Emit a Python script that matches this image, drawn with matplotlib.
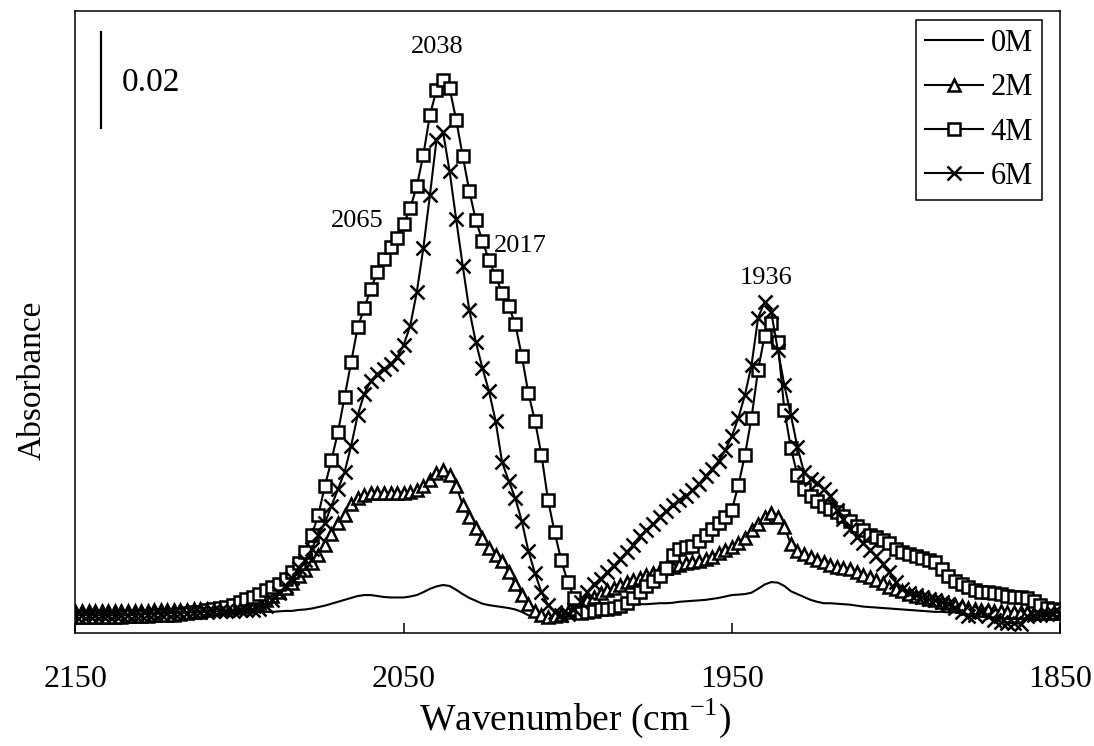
import numpy as np
import matplotlib
matplotlib.use("Agg")
import matplotlib.pyplot as plt

plt.rcParams["mathtext.fontset"] = "custom"
plt.rcParams["mathtext.rm"] = "Liberation Serif"

# Sampling grid (cm^-1): 2 cm^-1 steps from 2150 down to 1850
wavenumber = np.arange(2150, 1848, -2)

# Absorbance spectra, one value per grid point (rows of ten, high -> low wavenumber)
abs_0M = [
    0.0016, 0.0016, 0.0016, 0.0016, 0.0016, 0.0016, 0.0016, 0.0016, 0.0016, 0.0016,  # 2150-2132
    0.0016, 0.0016, 0.0016, 0.0016, 0.0016, 0.0016, 0.0016, 0.0016, 0.0016, 0.0016,  # 2130-2112
    0.0016, 0.0016, 0.0016, 0.0016, 0.0016, 0.0016, 0.0017, 0.0017, 0.0017, 0.0017,  # 2110-2092
    0.0017, 0.0018, 0.0019, 0.0019, 0.0021, 0.0022, 0.0024, 0.0027, 0.0030, 0.0034,  # 2090-2072
    0.0038, 0.0042, 0.0046, 0.0050, 0.0052, 0.0052, 0.0050, 0.0048, 0.0047, 0.0047,  # 2070-2052
    0.0047, 0.0049, 0.0052, 0.0058, 0.0065, 0.0070, 0.0073, 0.0071, 0.0063, 0.0054,  # 2050-2032
    0.0046, 0.0040, 0.0034, 0.0031, 0.0029, 0.0027, 0.0025, 0.0022, 0.0017, 0.0010,  # 2030-2012
    0.0006, 0.0003, 0.0002, 0.0003, 0.0006, 0.0010, 0.0017, 0.0023, 0.0027, 0.0028,  # 2010-1992
    0.0029, 0.0030, 0.0031, 0.0031, 0.0031, 0.0032, 0.0033, 0.0033, 0.0034, 0.0035,  # 1990-1972
    0.0035, 0.0036, 0.0038, 0.0039, 0.0040, 0.0041, 0.0042, 0.0044, 0.0046, 0.0049,  # 1970-1952
    0.0052, 0.0053, 0.0054, 0.0057, 0.0065, 0.0074, 0.0079, 0.0078, 0.0071, 0.0060,  # 1950-1932
    0.0054, 0.0048, 0.0042, 0.0038, 0.0035, 0.0035, 0.0034, 0.0033, 0.0032, 0.0030,  # 1930-1912
    0.0028, 0.0027, 0.0026, 0.0025, 0.0024, 0.0023, 0.0022, 0.0021, 0.0020, 0.0019,  # 1910-1892
    0.0018, 0.0017, 0.0017, 0.0016, 0.0016, 0.0015, 0.0015, 0.0015, 0.0015, 0.0015,  # 1890-1872
    0.0015, 0.0015, 0.0015, 0.0015, 0.0015, 0.0015, 0.0015, 0.0015, 0.0015, 0.0015,  # 1870-1852
    0.0015,                                                                          # 1850
]

abs_2M = [
    0.0019, 0.0019, 0.0019, 0.0019, 0.0019, 0.0019, 0.0019, 0.0019, 0.0019, 0.0019,  # 2150-2132
    0.0019, 0.0019, 0.0020, 0.0020, 0.0020, 0.0021, 0.0021, 0.0021, 0.0022, 0.0023,  # 2130-2112
    0.0023, 0.0024, 0.0025, 0.0026, 0.0027, 0.0028, 0.0029, 0.0031, 0.0035, 0.0042,  # 2110-2092
    0.0050, 0.0058, 0.0067, 0.0077, 0.0092, 0.0104, 0.0119, 0.0135, 0.0156, 0.0179,  # 2090-2072
    0.0202, 0.0219, 0.0242, 0.0254, 0.0260, 0.0265, 0.0265, 0.0265, 0.0265, 0.0265,  # 2070-2052
    0.0265, 0.0267, 0.0271, 0.0279, 0.0292, 0.0306, 0.0313, 0.0302, 0.0279, 0.0240,  # 2050-2032
    0.0215, 0.0192, 0.0171, 0.0150, 0.0135, 0.0123, 0.0100, 0.0075, 0.0052, 0.0033,  # 2030-2012
    0.0019, 0.0010, 0.0006, 0.0008, 0.0011, 0.0016, 0.0023, 0.0033, 0.0042, 0.0048,  # 2010-1992
    0.0056, 0.0063, 0.0067, 0.0073, 0.0079, 0.0083, 0.0088, 0.0094, 0.0098, 0.0104,  # 1990-1972
    0.0108, 0.0110, 0.0115, 0.0119, 0.0121, 0.0123, 0.0127, 0.0131, 0.0140, 0.0146,  # 1970-1952
    0.0152, 0.0160, 0.0171, 0.0188, 0.0200, 0.0215, 0.0223, 0.0215, 0.0194, 0.0158,  # 1950-1932
    0.0144, 0.0138, 0.0131, 0.0125, 0.0121, 0.0115, 0.0110, 0.0108, 0.0106, 0.0100,  # 1930-1912
    0.0094, 0.0090, 0.0083, 0.0077, 0.0069, 0.0065, 0.0060, 0.0054, 0.0050, 0.0048,  # 1910-1892
    0.0044, 0.0042, 0.0038, 0.0035, 0.0031, 0.0029, 0.0025, 0.0023, 0.0021, 0.0020,  # 1890-1872
    0.0019, 0.0018, 0.0017, 0.0017, 0.0016, 0.0016, 0.0015, 0.0015, 0.0015, 0.0015,  # 1870-1852
    0.0015,                                                                          # 1850
]

abs_4M = [
    0.0006, 0.0006, 0.0006, 0.0006, 0.0006, 0.0006, 0.0007, 0.0007, 0.0008, 0.0008,  # 2150-2132
    0.0008, 0.0009, 0.0010, 0.0010, 0.0010, 0.0011, 0.0013, 0.0015, 0.0016, 0.0017,  # 2130-2112
    0.0020, 0.0022, 0.0025, 0.0028, 0.0032, 0.0038, 0.0043, 0.0048, 0.0055, 0.0063,  # 2110-2092
    0.0069, 0.0076, 0.0085, 0.0100, 0.0119, 0.0142, 0.0177, 0.0219, 0.0279, 0.0333,  # 2090-2072
    0.0392, 0.0465, 0.0538, 0.0610, 0.0650, 0.0690, 0.0725, 0.0752, 0.0777, 0.0796,  # 2070-2052
    0.0825, 0.0858, 0.0904, 0.0969, 0.1052, 0.1104, 0.1125, 0.1108, 0.1042, 0.0967,  # 2050-2032
    0.0894, 0.0833, 0.0790, 0.0750, 0.0717, 0.0681, 0.0654, 0.0617, 0.0550, 0.0473,  # 2030-2012
    0.0415, 0.0344, 0.0250, 0.0183, 0.0125, 0.0079, 0.0046, 0.0015, 0.0017, 0.0019,  # 2010-1992
    0.0022, 0.0024, 0.0025, 0.0029, 0.0035, 0.0046, 0.0058, 0.0071, 0.0081, 0.0091,  # 1990-1972
    0.0108, 0.0135, 0.0148, 0.0152, 0.0154, 0.0165, 0.0177, 0.0190, 0.0202, 0.0215,  # 1970-1952
    0.0229, 0.0281, 0.0344, 0.0421, 0.0521, 0.0592, 0.0619, 0.0579, 0.0438, 0.0358,  # 1950-1932
    0.0302, 0.0273, 0.0258, 0.0248, 0.0238, 0.0231, 0.0225, 0.0217, 0.0206, 0.0196,  # 1930-1912
    0.0188, 0.0177, 0.0173, 0.0167, 0.0160, 0.0148, 0.0142, 0.0138, 0.0133, 0.0129,  # 1910-1892
    0.0125, 0.0121, 0.0106, 0.0092, 0.0081, 0.0075, 0.0069, 0.0063, 0.0058, 0.0058,  # 1890-1872
    0.0057, 0.0055, 0.0051, 0.0048, 0.0047, 0.0046, 0.0040, 0.0031, 0.0025, 0.0022,  # 1870-1852
    0.0020,                                                                          # 1850
]

abs_6M = [
    0.0010, 0.0010, 0.0010, 0.0010, 0.0010, 0.0010, 0.0010, 0.0010, 0.0010, 0.0011,  # 2150-2132
    0.0011, 0.0013, 0.0013, 0.0013, 0.0014, 0.0015, 0.0015, 0.0015, 0.0016, 0.0017,  # 2130-2112
    0.0017, 0.0018, 0.0018, 0.0019, 0.0019, 0.0020, 0.0020, 0.0021, 0.0023, 0.0029,  # 2110-2092
    0.0042, 0.0056, 0.0071, 0.0088, 0.0108, 0.0125, 0.0148, 0.0177, 0.0202, 0.0238,  # 2090-2072
    0.0273, 0.0308, 0.0363, 0.0427, 0.0471, 0.0498, 0.0513, 0.0523, 0.0533, 0.0548,  # 2070-2052
    0.0573, 0.0613, 0.0683, 0.0775, 0.0885, 0.1000, 0.1017, 0.0935, 0.0835, 0.0738,  # 2050-2032
    0.0646, 0.0579, 0.0525, 0.0477, 0.0415, 0.0329, 0.0290, 0.0254, 0.0206, 0.0144,  # 2030-2012
    0.0098, 0.0058, 0.0031, 0.0017, 0.0010, 0.0013, 0.0023, 0.0038, 0.0058, 0.0075,  # 2010-1992
    0.0085, 0.0100, 0.0113, 0.0127, 0.0142, 0.0156, 0.0175, 0.0188, 0.0200, 0.0215,  # 1990-1972
    0.0227, 0.0240, 0.0250, 0.0258, 0.0271, 0.0283, 0.0300, 0.0315, 0.0331, 0.0354,  # 1970-1952
    0.0383, 0.0421, 0.0469, 0.0531, 0.0629, 0.0663, 0.0642, 0.0563, 0.0490, 0.0427,  # 1950-1932
    0.0360, 0.0308, 0.0294, 0.0285, 0.0273, 0.0258, 0.0229, 0.0210, 0.0190, 0.0173,  # 1930-1912
    0.0160, 0.0146, 0.0133, 0.0117, 0.0100, 0.0079, 0.0065, 0.0056, 0.0052, 0.0048,  # 1910-1892
    0.0044, 0.0042, 0.0038, 0.0033, 0.0025, 0.0017, 0.0008, 0.0010, 0.0017, 0.0008,  # 1890-1872
    0.0000, -0.0004, -0.0006, -0.0006, -0.0008, 0.0008, 0.0010, 0.0010, 0.0013, 0.0015,  # 1870-1852
    0.0015,                                                                          # 1850
]

series_labels = ["0M", "2M", "4M", "6M"]
x_ticks = [2150, 2050, 1950, 1850]
peak_labels = ["2038", "2065", "2017", "1936"]
scale_bar_value = 0.02

SERIF = ["Liberation Serif", "DejaVu Serif"]

fig = plt.figure(figsize=(10.94, 7.46), dpi=100)
ax = fig.add_axes([0.0690, 0.1515, 0.8999, 0.8338])

line_kw = dict(color="black", lw=1.5)
mk_kw = dict(markerfacecolor="white", markeredgecolor="black", markeredgewidth=1.8)

ax.plot(wavenumber, abs_0M, label=series_labels[0], **line_kw)
ax.plot(wavenumber, abs_2M, label=series_labels[1], marker="^", markersize=8.5, **line_kw, **mk_kw)
ax.plot(wavenumber, abs_4M, label=series_labels[2], marker="s", markersize=9.2, **line_kw, **mk_kw)
ax.plot(wavenumber, abs_6M, label=series_labels[3], marker="x", markersize=9.5,
        color="black", lw=1.5, markeredgewidth=1.8)

ax.set_xlim(2150, 1850)
ax.set_ylim(-0.0027, 0.1269)

# x axis: inward ticks, labels well below the frame
ax.set_xticks(x_ticks)
ax.set_xticklabels([str(t) for t in x_ticks], fontfamily=SERIF, fontsize=23)
ax.tick_params(axis="x", direction="in", length=7.2, width=1.1, pad=23, top=False)
ax.set_yticks([])
for sp in ax.spines.values():
    sp.set_linewidth(1.1)

ax.set_xlabel("Wavenumber (cm$^{-1}$)", fontfamily=SERIF, fontsize=27, va="center")
ax.xaxis.set_label_coords(0.507, -0.137)
ax.set_ylabel("Absorbance", fontfamily=SERIF, fontsize=24, va="center")
ax.yaxis.set_label_coords(-0.044, 0.407)

# absorbance scale bar
x_bar = 2142.2
y_bar = 0.1025
ax.plot([x_bar, x_bar], [y_bar, y_bar + scale_bar_value], color="black", lw=1.6)
ax.text(2135.8, 0.1119, f"{scale_bar_value:.2f}", fontfamily=SERIF, fontsize=24,
        ha="left", va="center")

# peak annotations
peak_xy = [(2039.9, 0.1194), (2064.3, 0.0831), (2014.6, 0.0779), (1939.7, 0.0713)]
for txt, (px, py) in zip(peak_labels, peak_xy):
    ax.text(px, py, txt, fontfamily=SERIF, fontsize=19, ha="center", va="center")

leg = ax.legend(loc="upper right", bbox_to_anchor=(0.982, 0.9855), borderaxespad=0,
                frameon=True, fancybox=False, edgecolor="black", framealpha=1,
                prop={"family": SERIF, "size": 22}, handlelength=1.9,
                handletextpad=0.25, labelspacing=0.5, borderpad=0.3)
leg.get_frame().set_linewidth(1.1)

fig.savefig("out.png", dpi=100)
